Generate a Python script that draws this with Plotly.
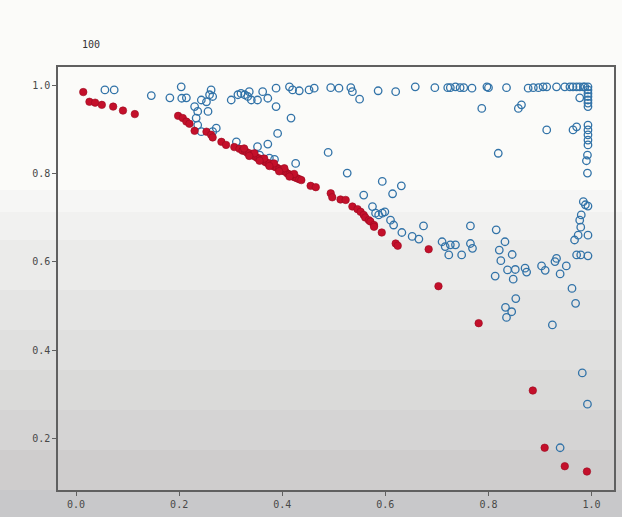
import plotly.graph_objects as go

# ---- data ----
blue_x = [0.056, 0.074, 0.146, 0.182, 0.204, 0.205, 0.214, 0.230, 0.236, 0.233,
          0.236, 0.243, 0.243, 0.253, 0.259, 0.262, 0.265, 0.256, 0.272, 0.265,
          0.301, 0.314, 0.320, 0.327, 0.336, 0.333, 0.340, 0.352, 0.362, 0.372,
          0.388, 0.388, 0.414, 0.420, 0.417, 0.391, 0.372, 0.352, 0.311, 0.489,
          0.426, 0.526, 0.356, 0.375, 0.385, 0.433, 0.452, 0.462, 0.494, 0.510,
          0.533, 0.536, 0.550, 0.586, 0.620, 0.658, 0.696, 0.721, 0.726, 0.736,
          0.745, 0.752, 0.768, 0.797, 0.800, 0.835, 0.877, 0.887, 0.897, 0.906,
          0.913, 0.932, 0.948, 0.958, 0.964, 0.971, 0.977, 0.984, 0.987, 0.993,
          0.993, 0.993, 0.993, 0.993, 0.993, 0.993, 0.977, 0.787, 0.858, 0.864,
          0.913, 0.964, 0.971, 0.993, 0.993, 0.993, 0.993, 0.993, 0.992, 0.990,
          0.992, 0.819, 0.984, 0.988, 0.993, 0.980, 0.977, 0.979, 0.993, 0.974,
          0.967, 0.971, 0.979, 0.993, 0.932, 0.929, 0.951, 0.903, 0.910, 0.939,
          0.962, 0.969, 0.982, 0.992, 0.939, 0.924, 0.594, 0.631, 0.558, 0.614,
          0.575, 0.581, 0.587, 0.594, 0.599, 0.610, 0.616, 0.632, 0.674, 0.652,
          0.665, 0.710, 0.716, 0.726, 0.736, 0.723, 0.748, 0.765, 0.765, 0.769,
          0.815, 0.832, 0.821, 0.824, 0.846, 0.813, 0.837, 0.852, 0.848, 0.871,
          0.874, 0.853, 0.833, 0.845, 0.835]
blue_y = [0.991, 0.991, 0.978, 0.973, 0.998, 0.972, 0.973, 0.953, 0.942, 0.927,
          0.911, 0.896, 0.968, 0.964, 0.980, 0.991, 0.976, 0.942, 0.904, 0.896,
          0.968, 0.980, 0.983, 0.980, 0.987, 0.976, 0.968, 0.968, 0.987, 0.972,
          0.995, 0.953, 0.998, 0.991, 0.927, 0.892, 0.868, 0.862, 0.873, 0.849,
          0.824, 0.802, 0.843, 0.836, 0.833, 0.989, 0.991, 0.995, 0.996, 0.995,
          0.996, 0.987, 0.970, 0.989, 0.987, 0.998, 0.996, 0.996, 0.996, 0.998,
          0.996, 0.996, 0.995, 0.998, 0.996, 0.996, 0.995, 0.996, 0.996, 0.998,
          0.998, 0.998, 0.998, 0.998, 0.998, 0.998, 0.998, 0.998, 0.998, 0.998,
          0.991, 0.983, 0.976, 0.968, 0.961, 0.953, 0.973, 0.949, 0.949, 0.957,
          0.900, 0.900, 0.907, 0.911, 0.900, 0.889, 0.877, 0.866, 0.843, 0.830,
          0.802, 0.847, 0.737, 0.730, 0.727, 0.707, 0.695, 0.679, 0.661, 0.661,
          0.650, 0.616, 0.616, 0.614, 0.608, 0.601, 0.591, 0.591, 0.581, 0.573,
          0.540, 0.506, 0.348, 0.277, 0.178, 0.457, 0.783, 0.773, 0.752, 0.755,
          0.726, 0.711, 0.707, 0.711, 0.714, 0.695, 0.684, 0.667, 0.682, 0.658,
          0.652, 0.646, 0.635, 0.639, 0.639, 0.616, 0.616, 0.682, 0.642, 0.631,
          0.673, 0.646, 0.627, 0.603, 0.617, 0.568, 0.582, 0.583, 0.561, 0.586,
          0.577, 0.517, 0.497, 0.487, 0.474]

red_x = [0.014, 0.026, 0.037, 0.050, 0.072, 0.091, 0.114, 0.198, 0.207, 0.214,
         0.220, 0.230, 0.253, 0.262, 0.265, 0.282, 0.291, 0.307,
         0.317, 0.323, 0.328, 0.332, 0.336, 0.340, 0.344, 0.348, 0.352, 0.356,
         0.359, 0.363, 0.367, 0.371, 0.375, 0.379, 0.383, 0.386, 0.390, 0.394,
         0.398, 0.402, 0.406, 0.410, 0.414, 0.417, 0.421, 0.425, 0.429, 0.433,
         0.437, 0.326, 0.346, 0.365, 0.384, 0.404, 0.423, 0.336, 0.356, 0.375,
         0.394, 0.414,
         0.455, 0.465, 0.494, 0.497, 0.513, 0.523, 0.536, 0.546, 0.552, 0.558,
         0.561, 0.568, 0.571, 0.578, 0.578, 0.593, 0.620, 0.624, 0.684, 0.703,
         0.781, 0.886, 0.909, 0.948, 0.991]
red_y = [0.986, 0.964, 0.962, 0.957, 0.953, 0.944, 0.936, 0.932, 0.927, 0.919,
         0.914, 0.898, 0.896, 0.889, 0.883, 0.873, 0.866, 0.861,
         0.857, 0.853, 0.852, 0.848, 0.847, 0.843, 0.842, 0.839, 0.836, 0.835,
         0.832, 0.831, 0.827, 0.825, 0.824, 0.820, 0.818, 0.816, 0.814, 0.811,
         0.809, 0.807, 0.805, 0.801, 0.799, 0.797, 0.794, 0.792, 0.790, 0.788,
         0.786, 0.858, 0.847, 0.835, 0.824, 0.813, 0.800, 0.841, 0.830, 0.818,
         0.806, 0.794,
         0.773, 0.770, 0.756, 0.747, 0.742, 0.741, 0.726, 0.720, 0.714, 0.707,
         0.701, 0.695, 0.692, 0.684, 0.680, 0.667, 0.642, 0.637, 0.629, 0.545,
         0.461, 0.308, 0.178, 0.136, 0.124]

x_ticks = [0.0, 0.2, 0.4, 0.6, 0.8, 1.0]
x_labels = ["0.0", "0.2", "0.4", "0.6", "0.8", "1.0"]
y_ticks = [0.2, 0.4, 0.6, 0.8, 1.0]
y_labels = ["0.2", "0.4", "0.6", "0.8", "1.0"]
title_text = "100"

fig = go.Figure()
fig.add_trace(go.Scatter(
    x=blue_x, y=blue_y, mode="markers",
    marker=dict(symbol="circle-open", size=7.5, color="#3273a8",
                line=dict(width=1.3, color="#3273a8")),
    showlegend=False))
fig.add_trace(go.Scatter(
    x=red_x, y=red_y, mode="markers",
    marker=dict(symbol="circle", size=7.5, color="#c4102b",
                line=dict(width=0.6, color="#9a0a20")),
    showlegend=False))

# background gradient bands (pixel breakpoints -> paper coords)
H, T, B = 517, 67, 27
plot_h = H - T - B
bands = [(0, 190, "#fbfbf9"), (190, 212, "#f6f6f5"), (212, 240, "#f1f1f0"),
         (240, 290, "#ebebea"), (290, 330, "#e5e5e4"), (330, 370, "#e0e0df"),
         (370, 410, "#dadad9"), (410, 450, "#d5d4d4"), (450, 490, "#cfcdcd"),
         (490, 517, "#c8c8ca")]
shapes = []
for y0p, y1p, c in bands:
    shapes.append(dict(type="rect", xref="paper", yref="paper",
                       x0=-0.2, x1=1.2,
                       y0=(H - B - y1p) / plot_h, y1=(H - B - y0p) / plot_h,
                       fillcolor=c, line=dict(width=0), layer="below"))

axis_common = dict(showgrid=False, zeroline=False, showline=True, mirror=True,
                   linecolor="#606060", linewidth=1.5, ticks="outside",
                   ticklen=4, tickcolor="#606060",
                   tickfont=dict(family="DejaVu Sans Mono", size=10, color="#484848"))

fig.update_layout(
    width=622, height=517,
    margin=dict(l=58, r=6, t=67, b=27),
    paper_bgcolor="rgba(0,0,0,0)", plot_bgcolor="rgba(0,0,0,0)",
    shapes=shapes,
    xaxis=dict(range=[-0.035, 1.0435], tickvals=x_ticks, ticktext=x_labels, **axis_common),
    yaxis=dict(range=[0.082, 1.043], tickvals=y_ticks, ticktext=y_labels, **axis_common),
    annotations=[dict(text=title_text, xref="paper", yref="paper",
                      x=(80 - 58) / 558, y=(H - B - 45) / plot_h,
                      xanchor="left", yanchor="middle", showarrow=False,
                      font=dict(family="DejaVu Sans Mono", size=10, color="#333333"))],
)

fig.write_html("out.html")
